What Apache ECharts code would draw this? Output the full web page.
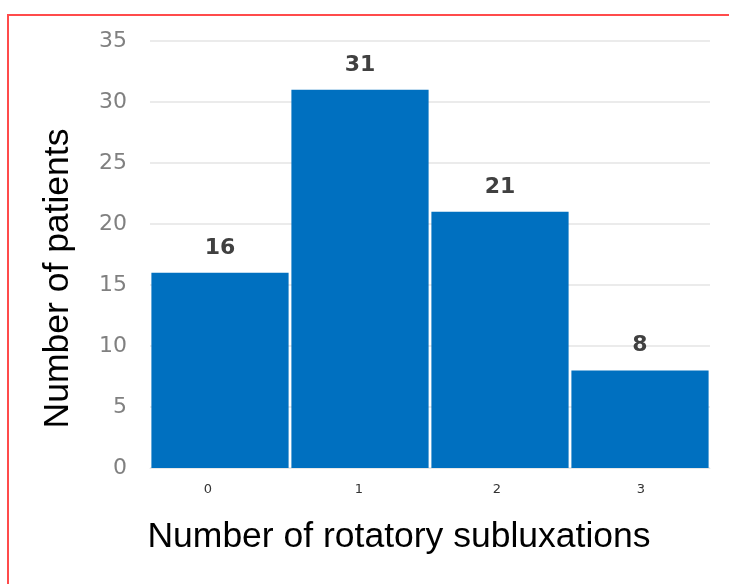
<!DOCTYPE html>
<html>
<head>
<meta charset="utf-8">
<script src="https://cdn.jsdelivr.net/npm/echarts@6/dist/echarts.min.js"></script>
<style>
  html, body { margin: 0; padding: 0; background: #fff; }
  #chart { width: 729px; height: 584px; }
</style>
</head>
<body>
<div id="chart"></div>
<script>
// Patients by number of rotatory subluxations
const categories = ['0', '1', '2', '3'];
const patients = [16, 31, 21, 8];
const yTicks = { min: 0, max: 35, interval: 5 };

// small horizontal nudges for the category tick labels
const labelNudge = [-12, -1, -3, 1];

const chart = echarts.init(document.getElementById('chart'), null, { renderer: 'canvas' });

chart.setOption({
  animation: false,
  backgroundColor: '#ffffff',
  grid: { left: 150, right: 19, top: 41, bottom: 116, containLabel: false },
  xAxis: {
    type: 'category',
    data: categories.map((c, i) => {
      const n = labelNudge[i];
      return {
        value: c,
        textStyle: { padding: n < 0 ? [0, -2 * n, 0, 0] : [0, 0, 0, 2 * n] }
      };
    }),
    name: 'Number of rotatory subluxations',
    nameLocation: 'middle',
    nameGap: 51,
    nameTextStyle: {
      fontFamily: 'Liberation Sans, Arial, sans-serif',
      fontSize: 35.5,
      color: '#000000',
      padding: [0, 62, 0, 0]
    },
    axisLine: { show: true, lineStyle: { color: '#e8e8e8', width: 1 } },
    axisTick: { show: false },
    axisLabel: {
      fontFamily: 'DejaVu Sans, sans-serif',
      fontSize: 13,
      color: '#333333',
      margin: 15
    }
  },
  yAxis: {
    type: 'value',
    min: yTicks.min,
    max: yTicks.max,
    interval: yTicks.interval,
    name: 'Number of patients',
    nameLocation: 'middle',
    nameGap: 74,
    nameRotate: 90,
    nameTextStyle: {
      fontFamily: 'Liberation Sans, Arial, sans-serif',
      fontSize: 35.5,
      color: '#000000',
      padding: [0, 48, 0, 0]
    },
    axisLine: { show: false },
    axisTick: { show: false },
    axisLabel: {
      fontFamily: 'DejaVu Sans, sans-serif',
      fontSize: 22,
      color: '#808080',
      margin: 23
    },
    splitLine: { show: true, lineStyle: { color: '#ebebeb', width: 2 } }
  },
  series: [{
    type: 'bar',
    data: patients,
    barCategoryGap: '2%',
    itemStyle: { color: '#0070C0' },
    label: {
      show: true,
      position: 'top',
      distance: 14,
      fontFamily: 'DejaVu Sans, sans-serif',
      fontWeight: 'bold',
      fontSize: 22,
      color: '#404040'
    }
  }],
  graphic: [
    { type: 'line', shape: { x1: 7, y1: 15, x2: 729, y2: 15 }, style: { stroke: '#ff4b4b', lineWidth: 2 }, silent: true },
    { type: 'line', shape: { x1: 8, y1: 14, x2: 8, y2: 584 }, style: { stroke: '#ff4b4b', lineWidth: 2 }, silent: true }
  ]
});
</script>
</body>
</html>
